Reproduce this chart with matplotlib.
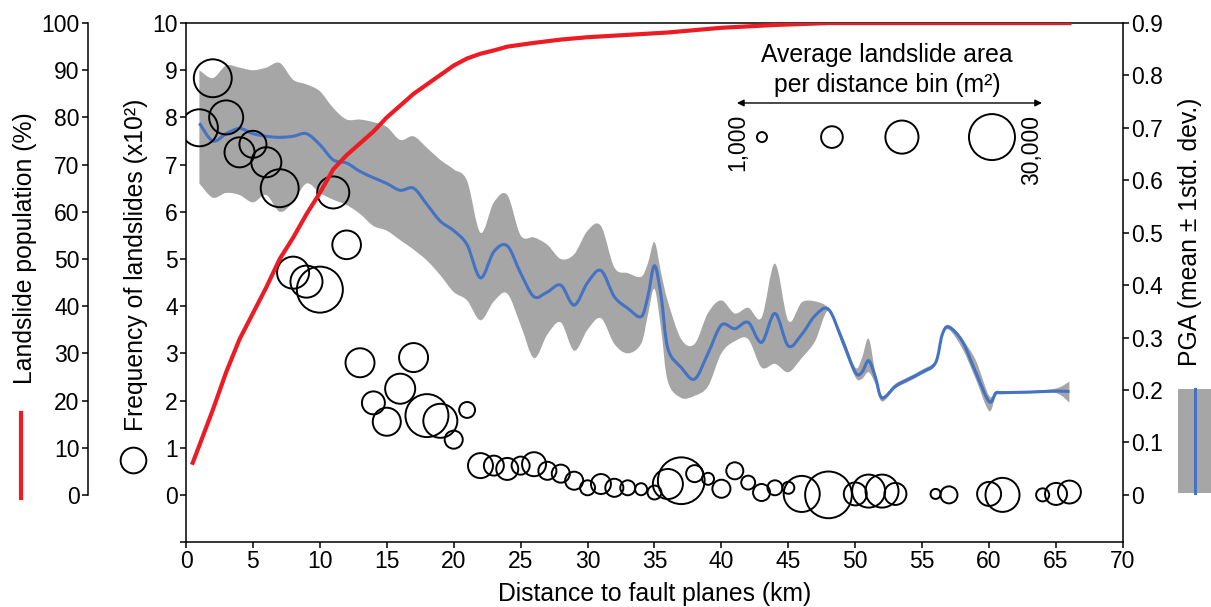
import numpy as np
import matplotlib
matplotlib.use('Agg')
import matplotlib.pyplot as plt
from matplotlib.lines import Line2D
from matplotlib.patches import Rectangle, PathPatch
from matplotlib.path import Path

plt.rcParams['font.family'] = ['Liberation Sans', 'DejaVu Sans']
plt.rcParams['font.size'] = 16

# cumulative landslide population (%)
pop_km = [0.5, 1, 2, 3, 4, 5, 6, 7, 8, 9, 10, 11, 12, 13, 14, 15, 16, 17, 18, 19,
          20, 21, 22, 23, 24, 26, 28, 30, 33, 36, 40, 44, 48, 56, 66]
pop_pct = [6.8, 10.5, 18, 26, 33, 38.5, 44, 50, 54.5, 59.5, 64, 69, 72, 74.5, 77, 80,
           82.5, 85, 87, 89, 91, 92.5, 93.5, 94.2, 95, 95.8, 96.5, 97, 97.5, 98, 99,
           99.6, 100, 100, 100]

# landslide count per 1 km bin (x10^2) and mean landslide area in the bin (m2)
bin_km = [1, 2, 3, 4, 5, 6, 7, 8, 9, 10, 11, 12, 13, 14, 15, 16, 17, 18, 19, 20,
          21, 22, 23, 24, 25, 26, 27, 28, 29, 30, 31, 32, 33, 34, 35, 36, 37, 38, 39, 40,
          41, 42, 43, 44, 45, 46, 48, 50, 51, 52, 53, 56, 57, 60, 61, 64, 65, 66]
freq = [7.78, 8.83, 8.0, 7.26, 7.43, 7.05, 6.5, 4.71, 4.52, 4.35, 6.41, 5.3, 2.8, 1.95,
        1.55, 2.25, 2.91, 1.68, 1.57, 1.17, 1.8, 0.62, 0.62, 0.55, 0.62, 0.65, 0.51, 0.45,
        0.3, 0.15, 0.23, 0.15, 0.15, 0.12, 0.05, 0.23, 0.3, 0.45, 0.34, 0.13, 0.51, 0.26,
        0.05, 0.15, 0.15, 0.02, 0.0, 0.02, 0.08, 0.08, 0.02, 0.02, 0.0, 0.02, 0.0, 0.0,
        0.02, 0.06]
mean_area = [19000, 20000, 15900, 12200, 9700, 12200, 20000, 14000, 14000, 30000, 14000,
             11000, 11300, 6800, 10500, 12200, 11300, 26000, 15900, 4000, 3000, 8200, 5000,
             6200, 4000, 7500, 4000, 4000, 4000, 2600, 5000, 4000, 2600, 1550, 2200, 12200,
             31000, 3500, 1550, 4000, 3500, 2200, 3500, 2600, 1550, 18000, 31000, 6800,
             14900, 14900, 6200, 1000, 3500, 7500, 15900, 1900, 6200, 6800]

# PGA (g): mean and the +/- 1 std. dev. envelope
pga_km = [1, 2, 3, 4, 5, 6, 7, 8, 9, 10, 11, 12, 13, 14, 15, 16, 17, 18, 19, 20, 21, 22,
          23, 24, 25, 26, 27, 28, 29, 30, 31, 32, 33, 34, 34.5, 35, 35.5, 36, 37, 38, 39,
          40, 41, 42, 43, 44, 45, 46, 47, 48, 49, 50, 50.5, 51, 51.5, 52, 53, 54, 55, 56,
          56.5, 57, 58, 59, 60, 60.5, 61, 63, 65, 66]
pga_mean = [0.709, 0.675, 0.689, 0.699, 0.689, 0.684, 0.682, 0.684, 0.689, 0.668, 0.639,
            0.633, 0.617, 0.605, 0.594, 0.581, 0.585, 0.554, 0.522, 0.504, 0.477, 0.414,
            0.464, 0.475, 0.423, 0.378, 0.387, 0.400, 0.362, 0.405, 0.428, 0.378, 0.356,
            0.340, 0.378, 0.437, 0.378, 0.279, 0.243, 0.221, 0.270, 0.324, 0.317, 0.329,
            0.291, 0.346, 0.284, 0.306, 0.342, 0.354, 0.297, 0.234, 0.234, 0.256, 0.225,
            0.185, 0.207, 0.221, 0.234, 0.252, 0.306, 0.320, 0.293, 0.234, 0.178, 0.194,
            0.195, 0.196, 0.198, 0.197]
pga_hi = [0.810, 0.795, 0.819, 0.815, 0.810, 0.815, 0.824, 0.792, 0.783, 0.770, 0.738,
          0.716, 0.716, 0.711, 0.702, 0.677, 0.684, 0.662, 0.639, 0.621, 0.599, 0.500,
          0.558, 0.572, 0.495, 0.491, 0.477, 0.450, 0.459, 0.504, 0.513, 0.434, 0.423,
          0.416, 0.441, 0.482, 0.423, 0.369, 0.297, 0.288, 0.347, 0.371, 0.346, 0.357,
          0.338, 0.441, 0.332, 0.367, 0.369, 0.356, 0.306, 0.243, 0.261, 0.298, 0.234,
          0.189, 0.212, 0.225, 0.239, 0.257, 0.311, 0.324, 0.297, 0.257, 0.189, 0.198,
          0.198, 0.198, 0.203, 0.216]
pga_lo = [0.594, 0.567, 0.576, 0.572, 0.558, 0.572, 0.540, 0.558, 0.594, 0.576, 0.563,
          0.553, 0.536, 0.513, 0.504, 0.486, 0.468, 0.447, 0.419, 0.387, 0.371, 0.333,
          0.369, 0.384, 0.324, 0.261, 0.306, 0.329, 0.275, 0.315, 0.337, 0.288, 0.270,
          0.288, 0.342, 0.393, 0.315, 0.216, 0.185, 0.189, 0.207, 0.270, 0.293, 0.297,
          0.243, 0.250, 0.234, 0.261, 0.293, 0.351, 0.288, 0.225, 0.221, 0.234, 0.212,
          0.178, 0.203, 0.216, 0.230, 0.248, 0.302, 0.315, 0.279, 0.221, 0.160, 0.189,
          0.192, 0.194, 0.194, 0.176]

legend_area = [1000, 6000, 15000, 30000]

RED = '#ec1c24'
BLUE = '#4472c4'
GREY = '#a6a6a6'
LABEL_FS = 17.8


def area_to_size(a):
    # marker diameter grows with the square root of the mean area
    d_px = 2 + 0.254 * np.sqrt(np.asarray(a, dtype=float))
    return (d_px * 0.72) ** 2


def bezier_verts(x, y):
    # Catmull-Rom through the points, written as cubic Bezier segments
    p = np.column_stack([x, y]).astype(float)
    ext = np.vstack([p[0], p, p[-1]])
    verts = [p[0]]
    for i in range(len(p) - 1):
        p0, p1, p2, p3 = ext[i], ext[i + 1], ext[i + 2], ext[i + 3]
        verts += [p1 + (p2 - p0) / 6, p2 - (p3 - p1) / 6, p2]
    return verts


fig = plt.figure(figsize=(12.11, 6.07), dpi=100)
ax = fig.add_axes([0.1536, 0.107, 0.7737, 0.855])
ax_pga = ax.twinx()
ax_pop = ax.twinx()

ax_pga.set_zorder(0)
ax.set_zorder(1)
ax_pop.set_zorder(2)
ax.patch.set_visible(False)
ax_pop.patch.set_visible(False)

# PGA envelope and mean, drawn as smooth curves through the values
up = bezier_verts(pga_km, pga_hi)
dn = bezier_verts(pga_km[::-1], pga_lo[::-1])
band_codes = ([Path.MOVETO] + [Path.CURVE4] * (len(up) - 1) + [Path.LINETO]
              + [Path.CURVE4] * (len(dn) - 1) + [Path.CLOSEPOLY])
band = Path(up + dn + [up[0]], band_codes)
ax_pga.add_patch(PathPatch(band, facecolor=GREY, edgecolor='none', lw=0))
mid = bezier_verts(pga_km, pga_mean)
mid_path = Path(mid, [Path.MOVETO] + [Path.CURVE4] * (len(mid) - 1))
ax_pga.add_patch(PathPatch(mid_path, facecolor='none', edgecolor=BLUE, lw=2.2))
ax_pga.set_ylim(-0.09, 0.9)
ax_pga.set_yticks(np.arange(0, 0.95, 0.1))
ax_pga.set_yticklabels(['0'] + ['%.1f' % v for v in np.arange(0.1, 0.95, 0.1)])
for s in ['left', 'top', 'bottom']:
    ax_pga.spines[s].set_visible(False)
ax_pga.spines['right'].set_linewidth(1.1)
ax_pga.tick_params(axis='y', direction='out', length=4, width=1.1, pad=2, labelsize=16.5)

# landslide frequency bubbles
ax.scatter(bin_km, freq, s=area_to_size(mean_area), facecolors='none',
           edgecolors='black', linewidths=1.4, zorder=3)
ax.set_xlim(0, 70)
ax.set_ylim(-1, 10)
ax.set_xticks(range(0, 71, 5))
ax.set_yticks(range(-1, 11))
ax.set_yticklabels([''] + [str(v) for v in range(0, 11)])
ax.spines['right'].set_visible(False)
for s in ['left', 'top', 'bottom']:
    ax.spines[s].set_linewidth(1.1)
ax.tick_params(direction='out', length=4, width=1.1, pad=2, labelsize=16.5)
ax.set_xlabel('Distance to fault planes (km)', fontsize=LABEL_FS, labelpad=6)

# cumulative population on an offset left axis
ax_pop.plot(pop_km, pop_pct, color=RED, lw=3)
ax_pop.set_ylim(-10, 100)
ax_pop.spines['left'].set_position(('axes', -0.1046))
ax_pop.spines['left'].set_visible(True)
ax_pop.spines['left'].set_bounds(0, 100)
ax_pop.spines['left'].set_linewidth(1.1)
for s in ['right', 'top', 'bottom']:
    ax_pop.spines[s].set_visible(False)
ax_pop.yaxis.set_ticks_position('left')
ax_pop.yaxis.set_label_position('left')
ax_pop.set_yticks(range(0, 101, 10))
ax_pop.tick_params(axis='y', direction='out', length=4, width=1.1, pad=2, labelsize=16.5)

# bubble size key
ax.text(0.748, 0.938, 'Average landslide area', transform=ax.transAxes,
        ha='center', va='center', fontsize=LABEL_FS)
ax.text(0.748, 0.880, 'per distance bin (m²)', transform=ax.transAxes,
        ha='center', va='center', fontsize=LABEL_FS)
ax.annotate('', xy=(0.588, 0.846), xytext=(0.9136, 0.846), xycoords='axes fraction',
            arrowprops=dict(arrowstyle='<|-|>', lw=1, color='black',
                            mutation_scale=10, shrinkA=0, shrinkB=0))
ax.scatter([0.6147, 0.6894, 0.7641, 0.8602], [0.7803] * 4, s=area_to_size(legend_area),
           transform=ax.transAxes, facecolors='none', edgecolors='black',
           linewidths=1.4, clip_on=False)
ax.text(0.589, 0.771, '1,000', transform=ax.transAxes, rotation=90,
        ha='center', va='center', fontsize=16.5)
ax.text(0.9029, 0.755, '30,000', transform=ax.transAxes, rotation=90,
        ha='center', va='center', fontsize=16.5)

# axis titles with their symbols
fig.text(0.0206, 0.591, 'Landslide population (%)', rotation=90,
         ha='center', va='center', fontsize=LABEL_FS)
fig.add_artist(Line2D([0.0173, 0.0173], [0.1796, 0.3196], color=RED, lw=3,
                      transform=fig.transFigure))

fig.text(0.1123, 0.563, 'Frequency of landslides (x10²)', rotation=90,
         ha='center', va='center', fontsize=LABEL_FS)
fig.add_artist(Line2D([0.1098], [0.2422], marker='o', markersize=18.5,
                      markerfacecolor='none', markeredgecolor='black',
                      markeredgewidth=1.4, transform=fig.transFigure))

fig.text(0.9827, 0.618, 'PGA (mean ± 1std. dev.)', rotation=90,
         ha='center', va='center', fontsize=LABEL_FS)
fig.add_artist(Rectangle((0.9727, 0.1878), 0.04, 0.171, color=GREY, lw=0,
                         transform=fig.transFigure))
fig.add_artist(Line2D([0.9868, 0.9868], [0.1878, 0.3588], color=BLUE, lw=2.2,
                      transform=fig.transFigure))

fig.savefig('out.png', dpi=100)
